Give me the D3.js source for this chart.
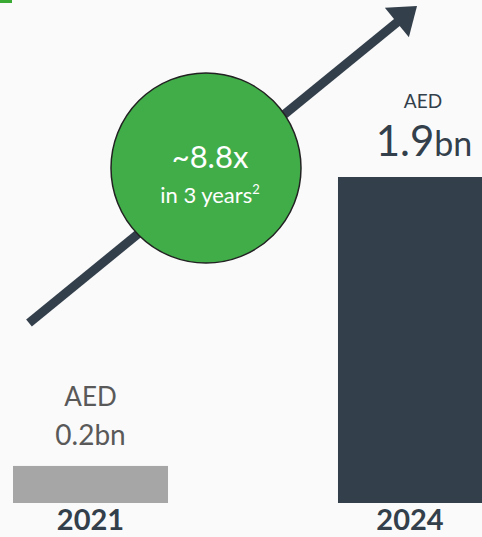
<!DOCTYPE html>
<html>
<head>
<meta charset="utf-8">
<script src="https://cdn.jsdelivr.net/npm/d3@7"></script>
<style>
  html, body { margin: 0; padding: 0; background: #fafafa; }
  svg { display: block; }
</style>
</head>
<body>
<div id="chart"></div>
<script>
// chart data
var years = ['2021', '2024'];
var values = [0.216, 1.9];
var currency = 'AED';
var unit = 'bn';
var multiple = '~8.8x';
var multipleNote = 'in 3 years';

var width = 482, height = 537;
var dark = '#333f4b';

var svg = d3.select('#chart').append('svg')
  .attr('width', width)
  .attr('height', height)
  .style('font-family', 'Lato, "Open Sans", sans-serif');

svg.append('rect')
  .attr('width', width)
  .attr('height', height)
  .attr('fill', '#fafafa');

// small green accent at top left
svg.append('rect')
  .attr('x', 0).attr('y', 0)
  .attr('width', 12).attr('height', 3)
  .attr('fill', '#3aaa35');

var x = d3.scaleBand()
  .domain(years)
  .range([13, 493])
  .paddingInner(0.523)
  .paddingOuter(0);

var y = d3.scaleLinear()
  .domain([0, d3.max(values)])
  .range([503, 177]);

var data = years.map(function(d, i) { return { year: d, value: values[i] }; });

// centre of the visible part of a bar (the last bar runs off the edge)
function cx(d) {
  var x0 = x(d.year);
  return (x0 + Math.min(x0 + x.bandwidth(), width)) / 2;
}

svg.selectAll('rect.bar')
  .data(data)
  .enter().append('rect')
  .attr('class', 'bar')
  .attr('x', function(d) { return x(d.year); })
  .attr('y', function(d) { return y(d.value); })
  .attr('width', x.bandwidth())
  .attr('height', function(d) { return y(0) - y(d.value); })
  .attr('fill', function(d, i) { return i === 0 ? '#a6a6a6' : dark; });

// year labels
svg.selectAll('text.year')
  .data(data)
  .enter().append('text')
  .attr('class', 'year')
  .attr('x', cx)
  .attr('y', 530)
  .attr('text-anchor', 'middle')
  .attr('font-size', 29)
  .attr('font-weight', 'bold')
  .attr('fill', dark)
  .text(function(d) { return d.year; });

var fmt = d3.format('.1f');

// 2021 value label
var first = data[0];
svg.append('text')
  .attr('x', cx(first))
  .attr('y', y(first.value) - 60)
  .attr('text-anchor', 'middle')
  .attr('font-size', 26)
  .attr('fill', '#595959')
  .text(currency);
svg.append('text')
  .attr('x', cx(first))
  .attr('y', y(first.value) - 21)
  .attr('text-anchor', 'middle')
  .attr('font-size', 28)
  .attr('fill', '#595959')
  .text(fmt(first.value) + unit);

// 2024 value label
var last = data[1];
svg.append('text')
  .attr('x', cx(last) + 13)
  .attr('y', y(last.value) - 69)
  .attr('text-anchor', 'middle')
  .attr('font-size', 19)
  .attr('fill', dark)
  .text(currency);
var big = svg.append('text')
  .attr('x', cx(last) + 14)
  .attr('y', y(last.value) - 21)
  .attr('text-anchor', 'middle')
  .attr('fill', dark);
big.append('tspan').attr('font-size', 42).text(fmt(last.value));
big.append('tspan').attr('font-size', 34).text(unit);

// growth arrow
var p0 = [29, 323], p1 = [417, 6];
var ang = Math.atan2(p1[1] - p0[1], p1[0] - p0[0]);
var headLen = 26, headW = 19;
var base = [p1[0] - headLen * Math.cos(ang), p1[1] - headLen * Math.sin(ang)];
var nx = -Math.sin(ang), ny = Math.cos(ang);

svg.append('line')
  .attr('x1', p0[0]).attr('y1', p0[1])
  .attr('x2', base[0] + 2 * Math.cos(ang)).attr('y2', base[1] + 2 * Math.sin(ang))
  .attr('stroke', dark)
  .attr('stroke-width', 9);

svg.append('polygon')
  .attr('points', [
    p1,
    [base[0] + nx * headW, base[1] + ny * headW],
    [base[0] - nx * headW, base[1] - ny * headW]
  ].map(function(p) { return p.join(','); }).join(' '))
  .attr('fill', dark);

// growth bubble
var bubble = svg.append('g').attr('transform', 'translate(206,168)');
bubble.append('circle')
  .attr('r', 95)
  .attr('fill', '#41ad49')
  .attr('stroke', '#222')
  .attr('stroke-width', 1.5);
bubble.append('text')
  .attr('x', 4)
  .attr('y', 0)
  .attr('text-anchor', 'middle')
  .attr('font-size', 31)
  .attr('fill', '#fff')
  .text(multiple);
var note = bubble.append('text')
  .attr('x', 4)
  .attr('y', 35)
  .attr('text-anchor', 'middle')
  .attr('font-size', 22)
  .attr('fill', '#fff');
note.append('tspan').text(multipleNote);
note.append('tspan')
  .attr('font-size', 13)
  .attr('dy', -9)
  .text('2');
</script>
</body>
</html>
